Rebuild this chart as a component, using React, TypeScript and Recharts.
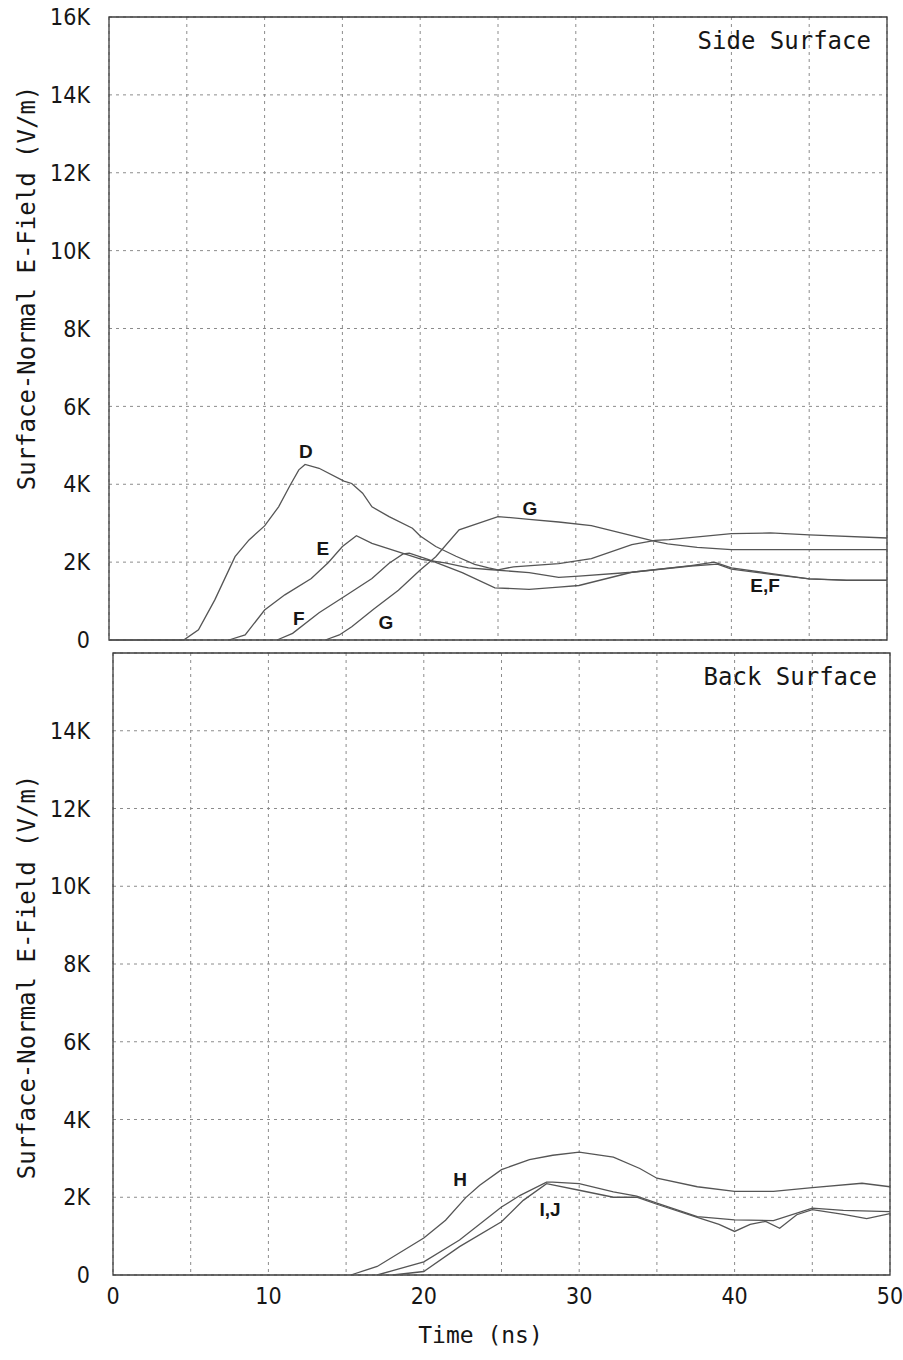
import {
  LineChart,
  Line,
  XAxis,
  YAxis,
  CartesianGrid,
  ReferenceArea,
  ReferenceDot,
} from "recharts";

// time in ns, field in V/m
const timeTicks = [0, 5, 10, 15, 20, 25, 30, 35, 40, 45, 50];
const fieldTicks = [0, 2000, 4000, 6000, 8000, 10000, 12000, 14000, 16000];

// Side surface
const sideD = [
  [0, 0], [4.8, 0], [5.75, 260], [6.8, 1030], [8.1, 2140], [9.0, 2570],
  [10.0, 2930], [10.9, 3420], [11.65, 3980], [12.2, 4370], [12.6, 4510],
  [13.5, 4410], [15.1, 4080], [15.6, 4020], [16.3, 3770], [16.9, 3420],
  [18.0, 3170], [19.5, 2870], [20.0, 2670], [21.0, 2400], [22.3, 2150],
  [23.5, 1940], [24.4, 1850], [25.0, 1800], [26.0, 1880], [28.9, 1960],
  [31.0, 2090], [33.6, 2450], [35.1, 2560], [36.0, 2580], [40.0, 2730],
  [42.5, 2750], [45.0, 2700], [50.0, 2620],
];
const sideE = [
  [7.7, 0], [8.75, 130], [10.0, 770], [11.3, 1160], [13.0, 1580],
  [14.1, 1990], [15.0, 2400], [15.9, 2680], [16.9, 2480], [19.0, 2210],
  [20.1, 2070], [21.6, 1980], [23.1, 1850], [24.4, 1810], [27.0, 1730],
  [28.9, 1610], [30.2, 1640], [33.6, 1740], [37.4, 1910], [38.9, 2000],
  [40.0, 1850], [42.7, 1700], [45.0, 1570], [47.4, 1530], [50.0, 1530],
];
const sideF = [
  [10.8, 0], [11.8, 170], [13.5, 700], [15.1, 1110], [16.9, 1580],
  [18.0, 1970], [18.9, 2210], [19.3, 2230], [20.5, 2070], [22.7, 1730],
  [24.8, 1340], [27.0, 1300], [28.9, 1360], [30.2, 1400], [33.6, 1740],
  [37.4, 1900], [39.1, 1950], [40.0, 1820], [42.7, 1680], [45.0, 1570],
  [47.4, 1540], [50.0, 1540],
];
const sideG = [
  [13.9, 0], [14.8, 130], [15.6, 340], [17.0, 790], [18.6, 1280],
  [20.0, 1800], [21.0, 2140], [22.5, 2830], [25.0, 3170], [27.0, 3100],
  [28.9, 3030], [31.0, 2940], [33.6, 2680], [35.1, 2530], [35.9, 2470],
  [37.8, 2380], [40.0, 2320], [45.0, 2320], [50.0, 2320],
];

// Back surface
const backH = [
  [15.3, 0], [17.0, 220], [20.0, 950], [21.4, 1410], [22.7, 1990],
  [23.6, 2310], [25.0, 2710], [26.8, 2970], [28.3, 3080], [30.0, 3160],
  [32.2, 3030], [33.9, 2740], [35.0, 2490], [37.6, 2270], [40.0, 2150],
  [42.5, 2150], [45.0, 2250], [48.2, 2360], [50.0, 2270],
];
const backI = [
  [17.0, 0], [20.0, 340], [22.3, 900], [25.0, 1750], [26.2, 2050],
  [27.9, 2390], [28.3, 2390], [30.0, 2350], [32.2, 2140], [33.7, 2030],
  [35.0, 1850], [37.6, 1500], [40.0, 1420], [42.5, 1400], [45.0, 1720],
  [47.0, 1660], [50.0, 1630],
];
const backJ = [
  [18.0, 0], [20.0, 90], [22.3, 730], [25.0, 1370], [26.4, 1920],
  [27.9, 2350], [30.0, 2180], [32.2, 2000], [33.7, 2000], [35.0, 1820],
  [37.6, 1480], [39.0, 1300], [40.0, 1120], [41.0, 1300], [42.0, 1380],
  [42.9, 1200], [44.0, 1550], [45.0, 1680], [47.0, 1560], [48.5, 1450],
  [50.0, 1580],
];

const sideLabels = [
  { text: "D", t: 12.66, v: 4830 },
  { text: "E", t: 13.75, v: 2340 },
  { text: "F", t: 12.2, v: 540 },
  { text: "G", t: 17.8, v: 460 },
  { text: "G", t: 27.05, v: 3390 },
  { text: "E,F", t: 42.16, v: 1410 },
];
const backLabels = [
  { text: "H", t: 22.34, v: 2450 },
  { text: "I,J", t: 28.13, v: 1680 },
];

const toPoints = (pairs: number[][]) => pairs.map(([t, v]) => ({ t, v }));

const TICK_FONT = "'DejaVu Sans Condensed', 'Liberation Sans Narrow', 'DejaVu Sans', sans-serif";
const MONO_FONT = "'DejaVu Sans Mono', monospace";
const INK = "#161616";
const CURVE = "#555";

const fmtField = (hideTop: boolean) => (v: number) => {
  if (v === 0) return "0";
  if (hideTop && v === 16000) return "";
  return `${v / 1000}K`;
};

const curveText = (text: string) => (p: any) => (
  <text
    x={p.cx}
    y={p.cy}
    textAnchor="middle"
    dominantBaseline="central"
    fontFamily="'Liberation Sans', Arial, sans-serif"
    fontWeight="bold"
    fontSize={19}
    fill={INK}
  >
    {text}
  </text>
);

const titleText = (text: string) => (p: any) => (
  <text x={p.cx} y={p.cy} textAnchor="end" fontFamily={MONO_FONT} fontSize={24} fill={INK}>
    {text}
  </text>
);

function Panel({
  series,
  labels,
  title,
  titleAt,
  showTime,
  width,
  height,
  margin,
  tickGap,
}: {
  series: number[][][];
  labels: { text: string; t: number; v: number }[];
  title: string;
  titleAt: { t: number; v: number };
  showTime: boolean;
  width: number;
  height: number;
  margin: { top: number; right: number; bottom: number; left: number };
  tickGap: number;
}) {
  return (
    <LineChart width={width} height={height} margin={margin}>
      <CartesianGrid stroke="#8c8c8c" strokeDasharray="3 4" strokeWidth={1} />
      <XAxis
        dataKey="t"
        type="number"
        domain={[0, 50]}
        ticks={timeTicks}
        allowDataOverflow
        axisLine={false}
        tickLine={false}
        height={showTime ? 85 : 1}
        tickSize={0}
        tickMargin={13}
        tick={(p: any) =>
          showTime && p.payload.value % 10 === 0 ? (
            <text
              x={p.x}
              y={p.y}
              dy="0.71em"
              textAnchor="middle"
              fontFamily={TICK_FONT}
              fontSize={23}
              fill={INK}
            >
              {p.payload.value}
            </text>
          ) : (
            <g />
          )
        }
        label={
          showTime
            ? (p: any) => {
                const vb = p.viewBox || { x: 0, y: 0, width: 0 };
                return (
                  <text
                    x={vb.x + vb.width / 2 - 21}
                    y={vb.y + 68}
                    textAnchor="middle"
                    fontFamily={MONO_FONT}
                    fontSize={23}
                    fill={INK}
                  >
                    Time (ns)
                  </text>
                );
              }
            : undefined
        }
      />
      <YAxis
        type="number"
        domain={[0, 16000]}
        ticks={fieldTicks}
        width={60}
        axisLine={false}
        tickLine={false}
        tickSize={0}
        tickMargin={tickGap}
        tickFormatter={fmtField(showTime)}
        tick={{ fontFamily: TICK_FONT, fontSize: 23, fill: INK }}
      />
      <ReferenceArea
        x1={0}
        x2={50}
        y1={0}
        y2={16000}
        fill="none"
        fillOpacity={0}
        stroke="#3c3c3c"
        strokeWidth={1.3}
      />
      {series.map((s, i) => (
        <Line
          key={i}
          data={toPoints(s)}
          dataKey="v"
          type="linear"
          stroke={CURVE}
          strokeWidth={1.3}
          dot={false}
          isAnimationActive={false}
        />
      ))}
      {labels.map((l, i) => (
        <ReferenceDot key={i} x={l.t} y={l.v} r={0} shape={curveText(l.text)} />
      ))}
      <ReferenceDot x={titleAt.t} y={titleAt.v} r={0} shape={titleText(title)} />
    </LineChart>
  );
}

function YTitle({ cy }: { cy: number }) {
  return (
    <svg width={50} height={460} style={{ position: "absolute", left: 2, top: cy - 230 }}>
      <text
        x={25}
        y={230}
        transform="rotate(-90 25 230)"
        textAnchor="middle"
        dominantBaseline="central"
        fontFamily={MONO_FONT}
        fontSize={24}
        fill={INK}
      >
        Surface-Normal E-Field (V/m)
      </text>
    </svg>
  );
}

export default function App() {
  return (
    <div
      style={{
        position: "absolute",
        left: 0,
        top: 0,
        width: 903,
        height: 1360,
        background: "#fff",
        overflow: "hidden",
      }}
    >
      <div style={{ position: "absolute", left: 0, top: 0 }}>
        <Panel
          series={[sideD, sideE, sideF, sideG]}
          labels={sideLabels}
          title="Side Surface"
          titleAt={{ t: 48.97, v: 15180 }}
          showTime={false}
          width={903}
          height={660}
          margin={{ top: 17, right: 16, bottom: 19, left: 49 }}
          tickGap={19}
        />
      </div>
      <div style={{ position: "absolute", left: 0, top: 640 }}>
        <Panel
          series={[backH, backI, backJ]}
          labels={backLabels}
          title="Back Surface"
          titleAt={{ t: 49.16, v: 15170 }}
          showTime={true}
          width={903}
          height={720}
          margin={{ top: 13, right: 13, bottom: 0, left: 53 }}
          tickGap={23}
        />
      </div>
      <YTitle cy={288} />
      <YTitle cy={977} />
    </div>
  );
}
